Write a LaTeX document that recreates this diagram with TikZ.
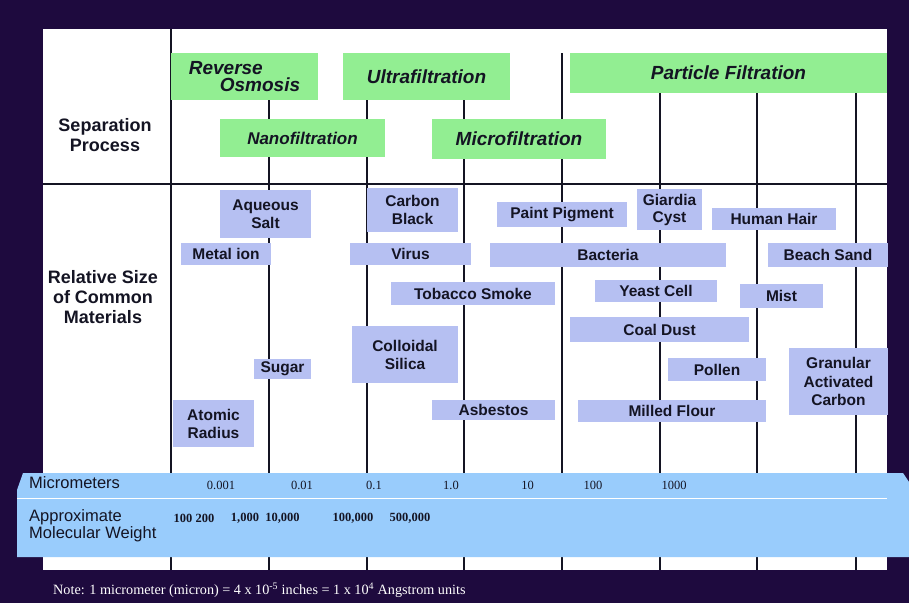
\documentclass[tikz,border=0pt]{standalone}
\usepackage{fontspec}
\setmainfont{Liberation Serif}
\newfontfamily\arial{Liberation Sans}
\definecolor{bgpurple}{RGB}{30,10,62}
\definecolor{procgreen}{RGB}{146,238,146}
\definecolor{matblue}{RGB}{182,192,242}
\definecolor{bandblue}{RGB}{153,204,252}
\definecolor{inkc}{RGB}{20,20,35}
\begin{document}
\begin{tikzpicture}[x=1pt,y=-1pt,
  proc/.style={fill=procgreen, inner sep=0pt, text=inkc, font=\arial\bfseries\itshape\fontsize{19}{17}\selectfont, align=center},
  mat/.style={fill=matblue, inner sep=0pt, text=inkc, font=\arial\bfseries\fontsize{15.5}{18}\selectfont, align=center},
  gridline/.style={draw=inkc, line width=1.3pt},
  rowlab/.style={text=inkc, font=\arial\bfseries\fontsize{18}{20}\selectfont, align=center, inner sep=0pt},
  bandlab/.style={text=inkc, font=\arial\fontsize{16.5}{17.5}\selectfont, align=left, anchor=west, inner sep=0pt},
  micro/.style={text=inkc, font=\fontsize{12.5}{12.5}\selectfont, inner sep=0pt},
  mw/.style={text=inkc, font=\bfseries\fontsize{12.5}{12.5}\selectfont, inner sep=0pt}]
\useasboundingbox (0,0) rectangle (909,603);
\fill[bgpurple] (0,0) rectangle (909,603);
% white panel
\fill[white] (43,29) rectangle (887,570);
% grid lines
\draw[gridline] (171,29) -- (171,570);
\foreach \gx in {269,367,464,562,660,757,856}{
  \draw[gridline] (\gx,53) -- (\gx,570);
}
\draw[gridline] (43,184) -- (887,184);
% row labels
\node[rowlab] (seplab) at (105,135) {Separation\\Process};
\node[rowlab] (rellab) at (103,297) {Relative Size\\of Common\\Materials};
% separation processes
\node[proc, minimum width=147pt, minimum height=47pt, align=left] (ro) at (244.5,76.5) {Reverse\\\hspace*{31pt}Osmosis};
\node[proc, minimum width=167pt, minimum height=47pt] (uf) at (426.5,76.5) {Ultrafiltration};
\node[proc, minimum width=317pt, minimum height=40pt] (pf) at (728.5,73) {Particle Filtration};
\node[proc, minimum width=165pt, minimum height=38pt, font=\arial\bfseries\itshape\fontsize{17}{17}\selectfont] (nf) at (302.5,138) {Nanofiltration};
\node[proc, minimum width=174pt, minimum height=40pt] (mf) at (519,139) {Microfiltration};
% materials
\node[mat, minimum width=91pt, minimum height=48pt] (aqs) at (265.5,214) {Aqueous\\Salt};
\node[mat, minimum width=91pt, minimum height=44pt] (cbl) at (412.5,210) {Carbon\\Black};
\node[mat, minimum width=90pt, minimum height=22pt] (mion) at (226,254) {Metal ion};
\node[mat, minimum width=121pt, minimum height=22pt] (vir) at (410.5,254) {Virus};
\node[mat, minimum width=164pt, minimum height=23pt] (tob) at (473,293.5) {Tobacco Smoke};
\node[mat, minimum width=106pt, minimum height=57pt] (col) at (405,354.5) {Colloidal\\Silica};
\node[mat, minimum width=57pt, minimum height=20pt] (sug) at (282.5,369) {Sugar};
\node[mat, minimum width=81pt, minimum height=47pt] (atr) at (213.5,423.5) {Atomic\\Radius};
\node[mat, minimum width=123pt, minimum height=20pt] (asb) at (493.5,410) {Asbestos};
\node[mat, minimum width=130pt, minimum height=25pt] (pp) at (562,214.5) {Paint Pigment};
\node[mat, minimum width=65pt, minimum height=41pt, font=\arial\bfseries\fontsize{15.5}{17}\selectfont] (gc) at (669.5,209.5) {Giardia\\Cyst};
\node[mat, minimum width=124pt, minimum height=22pt] (hh) at (774,219) {Human Hair};
\node[mat, minimum width=236pt, minimum height=24pt] (bac) at (608,255) {Bacteria};
\node[mat, minimum width=120pt, minimum height=24pt] (bs) at (828,255) {Beach Sand};
\node[mat, minimum width=122pt, minimum height=22pt] (yc) at (656,291) {Yeast Cell};
\node[mat, minimum width=83pt, minimum height=24pt] (mist) at (781.5,296) {Mist};
\node[mat, minimum width=179pt, minimum height=25pt] (cd) at (659.5,329.5) {Coal Dust};
\node[mat, minimum width=98pt, minimum height=23pt] (pol) at (717,369.5) {Pollen};
\node[mat, minimum width=99pt, minimum height=67pt, font=\arial\bfseries\fontsize{15.5}{18.5}\selectfont] (gac) at (838.5,381.5) {Granular\\Activated\\Carbon};
\node[mat, minimum width=188pt, minimum height=22pt] (mf2) at (672,411) {Milled Flour};
% band
\fill[bandblue] (23,473) -- (903,473) -- (909,482) -- (909,557) -- (17,557) -- (17,490) -- cycle;
\draw[white, line width=1pt] (17,498) -- (887,498);
\node[bandlab] (micl) at (29,483) {Micrometers};
\node[bandlab] (mwl) at (29,525.5) {Approximate\\Molecular Weight};
\node[micro] (m1) at (221,485) {0.001};
\node[micro] (m2) at (302,485) {0.01};
\node[micro] (m3) at (374,485) {0.1};
\node[micro] (m4) at (451,485) {1.0};
\node[micro] (m5) at (527.5,485) {10};
\node[micro] (m6) at (593,485) {100};
\node[micro] (m7) at (674,485) {1000};
\node[mw] (w1) at (183,518) {100};
\node[mw] (w2) at (205,518) {200};
\node[mw] (w3) at (245,518) {1,000};
\node[mw] (w4) at (282.5,518) {10,000};
\node[mw] (w5) at (353,518) {100,000};
\node[mw] (w6) at (410,518) {500,000};
% note
\node[anchor=west, text=white, font=\fontsize{14.2}{14.2}\selectfont, inner sep=0pt] (note) at (53,590) {Note: 1 micrometer (micron) = 4 x 10\textsuperscript{-5} inches = 1 x 10\textsuperscript{4} Angstrom units};
\end{tikzpicture}
\end{document}
